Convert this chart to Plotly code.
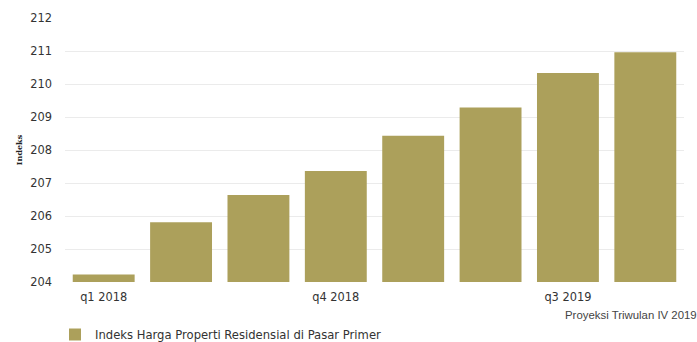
import plotly.graph_objects as go

categories = ["q1 2018", "q2 2018", "q3 2018", "q4 2018",
              "q1 2019", "q2 2019", "q3 2019", "q4 2019"]
values = [204.23, 205.81, 206.64, 207.36, 208.43, 209.29, 210.33, 210.96]
tick_labels = ["q1 2018", "q4 2018", "q3 2019"]
series_name = "Indeks Harga Properti Residensial di Pasar Primer"
y_ticks = [204, 205, 206, 207, 208, 209, 210, 211, 212]

W, H = 697, 342
ml, mr, mt, mb = 65, 13, 18, 60
pw = W - ml - mr
ph = H - mt - mb

fig = go.Figure()
fig.add_trace(go.Bar(
    x=categories, y=values, name=series_name,
    marker=dict(color="#ACA05B", line=dict(width=0)),
    showlegend=True,
))

fig.update_layout(
    width=W, height=H,
    margin=dict(l=ml, r=mr, t=mt, b=mb, pad=0, autoexpand=False),
    paper_bgcolor="white", plot_bgcolor="white",
    bargap=0.2,
    font=dict(family="DejaVu Sans", size=11, color="#333333"),
    xaxis=dict(
        type="category", categoryorder="array", categoryarray=categories,
        tickmode="array", tickvals=tick_labels, ticktext=tick_labels,
        showgrid=False, showline=False, zeroline=False, ticks="",
        ticklabelstandoff=7, automargin=False,
        tickfont=dict(family="DejaVu Sans", size=11.4, color="#333333"),
        range=[-0.5, 7.5],
    ),
    yaxis=dict(
        range=[204, 212], tickvals=y_ticks,
        showgrid=True, gridcolor="#EBEBEB", gridwidth=1,
        zeroline=False, showline=False, ticks="",
        ticklabelstandoff=12, automargin=False,
        tickfont=dict(family="DejaVu Sans", size=11.4, color="#333333"),
        title=dict(text="<b>Indeks</b>", standoff=6,
                   font=dict(family="DejaVu Serif", size=8, color="#222222")),
    ),
    legend=dict(
        orientation="h", x=-10 / pw, xanchor="left",
        y=-(320 - mt - ph) / ph, yanchor="top",
        font=dict(family="DejaVu Sans", size=11.6, color="#333333"),
        bgcolor="rgba(0,0,0,0)",
    ),
    annotations=[dict(
        text="Proyeksi Triwulan IV 2019", xref="paper", yref="paper",
        x=1.0 + 15 / pw, xanchor="right",
        y=-(315 - mt - ph) / ph, yanchor="middle", showarrow=False,
        font=dict(family="Liberation Sans", size=11.4, color="#444444"),
    )],
)

fig.write_html("out.html")
